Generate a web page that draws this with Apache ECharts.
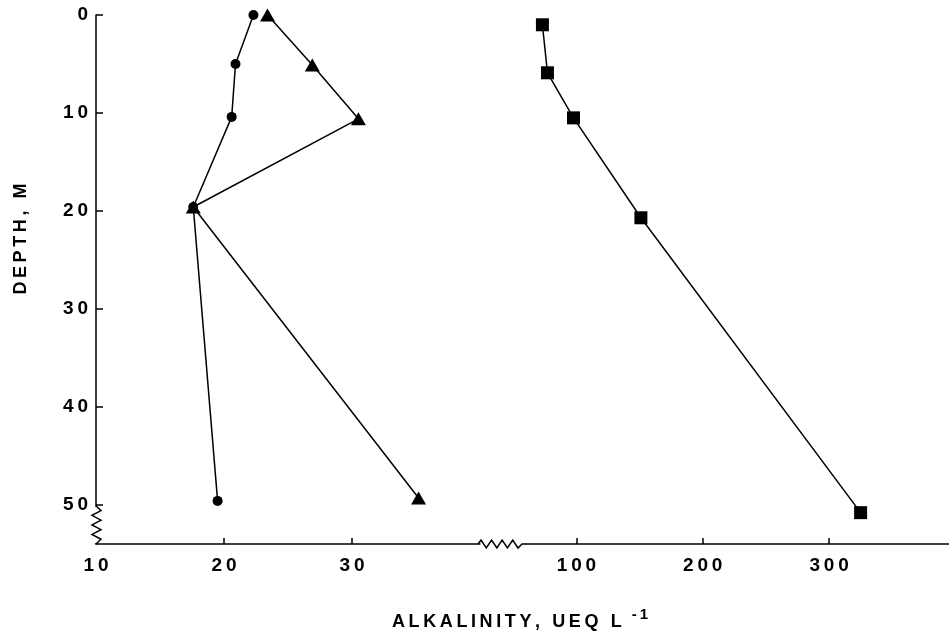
<!DOCTYPE html>
<html>
<head>
<meta charset="utf-8">
<script src="https://cdn.jsdelivr.net/npm/echarts@6/dist/echarts.min.js"></script>
<style>html,body{margin:0;padding:0;background:#fff}#chart{width:949px;height:640px}</style>
</head>
<body>
<div id="chart"></div>
<script>
// ---- data ----
const circleDepth = [0, 5.0, 10.4, 19.6, 49.6];
const circleAlk   = [22.3, 20.9, 20.6, 17.6, 19.5];
const triangleDepth = [0, 5.1, 10.6, 19.6, 49.3];
const triangleAlk   = [23.4, 26.9, 30.5, 17.6, 35.2];
const squareDepth = [1.0, 5.9, 10.5, 20.7, 50.8];
const squareAlk   = [73, 77, 97.6, 151, 325];
const depthTicks = [0, 10, 20, 30, 40, 50];
const leftAlkTicks = [10, 20, 30];
const rightAlkTicks = [100, 200, 300];
const xTitle = 'ALKALINITY, UEQ L';
const xTitleSup = '-1';
const yTitle = 'DEPTH, M';

const FONT = '"Liberation Sans", Arial, Helvetica, sans-serif';
const spaced = s => s.split('').join('\u2009');
const pairs = (xs, ys) => xs.map((x, i) => [x, ys[i]]);

const chart = echarts.init(document.getElementById('chart'), null, {renderer: 'canvas'});

const labelStyle = {color: '#000', fontFamily: FONT, fontSize: 19, fontWeight: 'bold'};
const lineCommon = {
  type: 'line', clip: false, animation: false,
  lineStyle: {color: '#000', width: 1.5},
  itemStyle: {color: '#000'},
  z: 3
};

chart.setOption({
  animation: false,
  backgroundColor: '#fff',
  grid: [
    {left: 96, top: 15, width: 384, height: 529},
    {left: 526, top: 15, right: 0, height: 529}
  ],
  xAxis: [
    {
      type: 'value', gridIndex: 0, min: 10, max: 40,
      splitLine: {show: false},
      axisLine: {show: true, onZero: false, lineStyle: {color: '#000', width: 1.5}},
      axisTick: {show: true, inside: true, length: 6, customValues: leftAlkTicks.slice(1), lineStyle: {color: '#000', width: 1.5}},
      axisLabel: Object.assign({customValues: leftAlkTicks, margin: 12, formatter: v => spaced(String(v))}, labelStyle)
    },
    {
      type: 'value', gridIndex: 1, min: 60, max: 395,
      splitLine: {show: false},
      axisLine: {show: true, onZero: false, lineStyle: {color: '#000', width: 1.5}},
      axisTick: {show: true, inside: true, length: 6, customValues: rightAlkTicks, lineStyle: {color: '#000', width: 1.5}},
      axisLabel: Object.assign({customValues: rightAlkTicks, margin: 12, formatter: v => spaced(String(v))}, labelStyle)
    }
  ],
  yAxis: [
    {
      type: 'value', gridIndex: 0, inverse: true, min: 0, max: 54,
      splitLine: {show: false},
      axisLine: {show: true, onZero: false, lineStyle: {color: '#000', width: 1.5}},
      axisTick: {show: true, inside: true, length: 7, customValues: depthTicks, lineStyle: {color: '#000', width: 1.5}},
      axisLabel: Object.assign({customValues: depthTicks, margin: 8, formatter: v => spaced(String(v))}, labelStyle)
    },
    {
      type: 'value', gridIndex: 1, inverse: true, min: 0, max: 54, show: false
    }
  ],
  title: {
    text: '{m|' + spaced(xTitle) + '}{s|' + spaced(xTitleSup) + '}',
    left: 392, top: 607, padding: 0,
    textStyle: {
      rich: {
        m: {fontFamily: FONT, fontSize: 18, fontWeight: 'bold', color: '#000', lineHeight: 30},
        s: {fontFamily: FONT, fontSize: 15, fontWeight: 'bold', color: '#000', verticalAlign: 'top', padding: [0, 0, 0, 10]}
      }
    }
  },
  series: [
    Object.assign({}, lineCommon, {name: 'circle', xAxisIndex: 0, yAxisIndex: 0, symbol: 'circle', symbolSize: 10, data: pairs(circleAlk, circleDepth)}),
    Object.assign({}, lineCommon, {name: 'triangle', xAxisIndex: 0, yAxisIndex: 0, symbol: 'triangle', symbolSize: [15, 13], data: pairs(triangleAlk, triangleDepth)}),
    Object.assign({}, lineCommon, {name: 'square', xAxisIndex: 1, yAxisIndex: 1, symbol: 'rect', symbolSize: 13, data: pairs(squareAlk, squareDepth)})
  ]
});

// ---- axis-break decorations, positioned from the axes ----
const p50 = chart.convertToPixel({gridIndex: 0}, [10, 50]);
const pBottom = chart.convertToPixel({gridIndex: 0}, [10, 54]);
const pLeftEnd = chart.convertToPixel({gridIndex: 0}, [40, 54]);
const pRightStart = chart.convertToPixel({gridIndex: 1}, [60, 54]);
const ax = p50[0], y0 = p50[1] + 1, y1 = pBottom[1];
const yz = [];
const nY = 7;
yz.push([ax, y0]);
for (let i = 1; i <= nY; i++) {
  yz.push([ax + (i % 2 ? 5 : -4), y0 + (y1 - y0) * i / (nY + 1)]);
}
yz.push([ax, y1]);
const xz = [];
const xa = pLeftEnd[0] - 2, xb = pRightStart[0], yb = pLeftEnd[1];
xz.push([xa, yb]);
const nX = 7;
const zx0 = xa + 3, zx1 = xa + 40;
for (let i = 0; i <= nX; i++) {
  xz.push([zx0 + (zx1 - zx0) * i / nX, yb + (i % 2 ? 4 : -4)]);
}
xz.push([zx1 + 4, yb]);
xz.push([xb, yb]);

chart.setOption({
  graphic: [
    {type: 'rect', shape: {x: ax - 3, y: y0 + 1, width: 6, height: y1 - y0 - 2}, style: {fill: '#fff'}, z: 10},
    {type: 'polyline', shape: {points: yz}, style: {stroke: '#000', lineWidth: 1.5, fill: null}, z: 11},
    {type: 'polyline', shape: {points: xz}, style: {stroke: '#000', lineWidth: 1.5, fill: null}, z: 11},
    {type: 'text', x: 21, y: 239, rotation: Math.PI / 2,
      style: {text: spaced(yTitle), fontFamily: FONT, fontSize: 18, fontWeight: 'bold', fill: '#000', align: 'center', verticalAlign: 'middle'}, z: 11}
  ]
});
</script>
</body>
</html>
